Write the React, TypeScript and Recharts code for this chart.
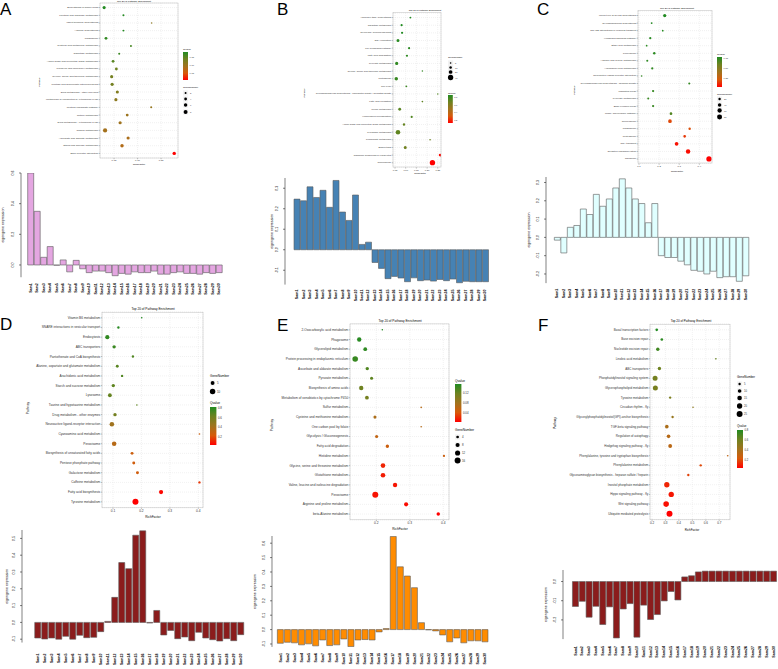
import React from 'react';
import { ScatterChart, Scatter, XAxis, YAxis, ZAxis, CartesianGrid, Cell, BarChart, Bar } from 'recharts';

const FONT = '"Liberation Sans", Arial, Helvetica, sans-serif';
const TITLE = 'Top 20 of Pathway Enrichment';

// ---------------- Panel A ----------------
const pathwaysA = ['Biosynthesis of amino acids', 'Fructose and mannose metabolism', 'Insect hormone biosynthesis', 'Arginine biosynthesis', 'Phagosome', 'Cysteine and methionine metabolism', 'Galactose metabolism', 'Amino sugar and nucleotide sugar metabolism', 'Porphyrin and chlorophyll metabolism', 'Glycine, serine and threonine metabolism', 'Pentose and glucuronate interconversions', 'Drug metabolism - other enzymes', 'Metabolism of xenobiotics by cytochrome P450', 'Pentose phosphate pathway', 'Retinol metabolism', 'Drug metabolism - cytochrome P450', 'Carbon metabolism', 'Ascorbate and aldarate metabolism', 'Starch and sucrose metabolism', 'ECM-receptor interaction'];
const richA = [0.029, 0.070, 0.130, 0.070, 0.033, 0.086, 0.061, 0.048, 0.055, 0.045, 0.046, 0.057, 0.054, 0.129, 0.078, 0.063, 0.031, 0.080, 0.067, 0.178];
const genesA = [5, 2, 1, 2, 4, 2, 2, 4, 4, 5, 5, 5, 5, 2, 4, 5, 9, 5, 6, 6];
const qA = [0.18, 0.18, 0.111, 0.18, 0.172, 0.16, 0.167, 0.15, 0.137, 0.132, 0.132, 0.12, 0.111, 0.102, 0.097, 0.094, 0.09, 0.085, 0.08, 0.007];

// ---------------- Panel B ----------------
const pathwaysB = ['Aminoacyl-tRNA biosynthesis', 'Galactose metabolism', 'Glycolysis / Gluconeogenesis', 'DNA replication', 'PPAR signaling pathway', 'Fatty acid degradation', 'Pyruvate metabolism', 'Glycine, serine and threonine metabolism', 'Proteasome', 'Cell cycle', 'Glycosaminoglycan biosynthesis - chondroitin sulfate / dermatan sulfate', 'Fatty acid elongation', 'Purine metabolism', 'Homologous recombination', 'Amino sugar and nucleotide sugar metabolism', 'Pyrimidine metabolism', 'Propanoate metabolism', 'Endocytosis', 'Ribosome biogenesis in eukaryotes', 'Spliceosome'];
const richB = [0.122, 0.081, 0.083, 0.064, 0.116, 0.106, 0.058, 0.178, 0.056, 0.103, 0.25, 0.178, 0.072, 0.128, 0.092, 0.064, 0.214, 0.098, 0.261, 0.225];
const genesB = [6, 8, 8, 14, 8, 8, 16, 4, 18, 6, 4, 5, 12, 8, 9, 30, 5, 14, 12, 40];
const qB = [0.86, 0.86, 0.86, 0.845, 0.838, 0.83, 0.823, 0.823, 0.808, 0.8, 0.749, 0.712, 0.727, 0.749, 0.697, 0.712, 0.675, 0.668, 0.135, 0.12];

// ---------------- Panel C ----------------
const pathwaysC = ['Mucin type O-glycan biosynthesis', 'Glycosphingolipid biosynthesis', 'SNARE interactions in vesicular transport', 'Hedgehog signaling pathway', 'Ether lipid metabolism', 'Peroxisome', 'Arginine and proline metabolism', 'Arachidonic acid metabolism', 'Neuroactive ligand-receptor interaction', 'Glycosaminoglycan biosynthesis - heparan sulfate', 'Mismatch repair', 'Pyruvate metabolism', 'Base excision repair', 'mRNA surveillance pathway', 'Spliceosome', 'Phagosome', 'Proteasome', 'RNA transport', 'Oxidative phosphorylation', 'Ribosome'];
const richC = [0.228, 0.163, 0.218, 0.156, 0.138, 0.176, 0.141, 0.166, 0.113, 0.35, 0.17, 0.146, 0.17, 0.259, 0.254, 0.352, 0.327, 0.287, 0.344, 0.448];
const genesC = [35, 12, 12, 18, 12, 20, 15, 18, 10, 15, 18, 15, 18, 25, 45, 20, 25, 45, 65, 90];
const qC = [0.775, 0.77, 0.765, 0.76, 0.755, 0.75, 0.745, 0.74, 0.735, 0.73, 0.725, 0.72, 0.72, 0.66, 0.175, 0.19, 0.14, 0.06, 0.05, 0.025];

// ---------------- Panel D ----------------
const pathwaysD = ['Vitamin B6 metabolism', 'SNARE interactions in vesicular transport', 'Endocytosis', 'ABC transporters', 'Pantothenate and CoA biosynthesis', 'Alanine, aspartate and glutamate metabolism', 'Arachidonic acid metabolism', 'Starch and sucrose metabolism', 'Lysosome', 'Taurine and hypotaurine metabolism', 'Drug metabolism - other enzymes', 'Neuroactive ligand-receptor interaction', 'Cyanoamino acid metabolism', 'Peroxisome', 'Biosynthesis of unsaturated fatty acids', 'Pentose phosphate pathway', 'Galactose metabolism', 'Caffeine metabolism', 'Fatty acid biosynthesis', 'Tyrosine metabolism'];
const richD = [0.201, 0.119, 0.08, 0.104, 0.17, 0.115, 0.132, 0.101, 0.089, 0.184, 0.107, 0.096, 0.404, 0.104, 0.167, 0.173, 0.186, 0.404, 0.269, 0.179];
const genesD = [1, 2, 6, 4, 2, 3, 2, 4, 5, 1, 4, 7, 1, 7, 3, 3, 3, 2, 6, 12];
const qD = [0.82, 0.804, 0.781, 0.757, 0.702, 0.679, 0.702, 0.663, 0.647, 0.663, 0.6, 0.428, 0.271, 0.349, 0.271, 0.255, 0.255, 0.153, 0.051, 0.035];

// ---------------- Panel E ----------------
const pathwaysE = ['2-Oxocarboxylic acid metabolism', 'Phagosome', 'Glycerolipid metabolism', 'Protein processing in endoplasmic reticulum', 'Ascorbate and aldarate metabolism', 'Pyruvate metabolism', 'Biosynthesis of amino acids', 'Metabolism of xenobiotics by cytochrome P450', 'Sulfur metabolism', 'Cysteine and methionine metabolism', 'One carbon pool by folate', 'Glycolysis / Gluconeogenesis', 'Fatty acid degradation', 'Histidine metabolism', 'Glycine, serine and threonine metabolism', 'Glutathione metabolism', 'Valine, leucine and isoleucine degradation', 'Peroxisome', 'Arginine and proline metabolism', 'beta-Alanine metabolism'];
const richE = [0.218, 0.149, 0.167, 0.137, 0.173, 0.186, 0.155, 0.172, 0.334, 0.196, 0.334, 0.201, 0.233, 0.402, 0.22, 0.22, 0.256, 0.197, 0.289, 0.385];
const genesE = [2, 9, 7, 14, 6, 5, 9, 7, 2, 5, 2, 5, 6, 3, 10, 10, 9, 16, 8, 6];
const qE = [0.156, 0.153, 0.15, 0.145, 0.133, 0.126, 0.118, 0.113, 0.065, 0.072, 0.065, 0.057, 0.05, 0.05, 0.019, 0.016, 0.013, 0.012, 0.009, 0.004];

// ---------------- Panel F ----------------
const pathwaysF = ['Basal transcription factors', 'Base excision repair', 'Nucleotide excision repair', 'Linoleic acid metabolism', 'ABC transporters', 'Phosphatidylinositol signaling system', 'Glycerophospholipid metabolism', 'Tyrosine metabolism', 'Circadian rhythm - fly', 'Glycosylphosphatidylinositol(GPI)-anchor biosynthesis', 'TGF-beta signaling pathway', 'Regulation of autophagy', 'Hedgehog signaling pathway - fly', 'Phenylalanine, tyrosine and tryptophan biosynthesis', 'Phenylalanine metabolism', 'Glycosaminoglycan biosynthesis - heparan sulfate / heparin', 'Inositol phosphate metabolism', 'Hippo signaling pathway - fly', 'Wnt signaling pathway', 'Ubiquitin mediated proteolysis'];
const richF = [0.235, 0.273, 0.243, 0.675, 0.255, 0.223, 0.225, 0.335, 0.505, 0.353, 0.31, 0.323, 0.335, 0.763, 0.562, 0.47, 0.31, 0.343, 0.305, 0.33];
const genesF = [6, 6, 9, 3, 9, 18, 18, 5, 3, 5, 10, 10, 11, 3, 5, 5, 20, 20, 22, 25];
const qF = [0.82, 0.796, 0.742, 0.647, 0.624, 0.6, 0.585, 0.569, 0.506, 0.467, 0.388, 0.349, 0.333, 0.31, 0.192, 0.176, 0.114, 0.082, 0.066, 0.035];

// ---------------- Eigengene bars ----------------
const samples = ['Sam1', 'Sam2', 'Sam3', 'Sam4', 'Sam5', 'Sam6', 'Sam7', 'Sam8', 'Sam9', 'Sam10', 'Sam11', 'Sam12', 'Sam13', 'Sam14', 'Sam15', 'Sam16', 'Sam17', 'Sam18', 'Sam19', 'Sam20', 'Sam21', 'Sam22', 'Sam23', 'Sam24', 'Sam25', 'Sam26', 'Sam27', 'Sam28', 'Sam29', 'Sam30'];
const eigenA = [0.6, 0.35, 0.05, 0.12, -0.002, 0.033, -0.045, 0.03, -0.025, -0.05, -0.04, -0.04, -0.05, -0.07, -0.055, -0.06, -0.045, -0.05, -0.05, -0.04, -0.06, -0.06, -0.05, -0.045, -0.055, -0.055, -0.06, -0.05, -0.055, -0.05];
const eigenB = [0.247, 0.239, 0.307, 0.255, 0.29, 0.207, 0.338, 0.184, 0.143, 0.267, 0.026, 0.037, -0.062, -0.091, -0.141, -0.13, -0.138, -0.156, -0.137, -0.151, -0.148, -0.153, -0.145, -0.151, -0.143, -0.161, -0.154, -0.156, -0.156, -0.156];
const eigenC = [-0.015, -0.085, 0.055, 0.065, 0.155, 0.125, 0.235, 0.17, 0.21, 0.27, 0.32, 0.27, 0.21, 0.185, 0.08, 0.185, -0.1, -0.11, -0.11, -0.13, -0.15, -0.18, -0.185, -0.2, -0.185, -0.22, -0.215, -0.215, -0.24, -0.21];
const eigenD = [-0.093, -0.099, -0.093, -0.1, -0.083, -0.1, -0.077, -0.091, -0.089, -0.055, 0.006, 0.149, 0.356, 0.32, 0.519, 0.545, -0.004, 0.071, -0.075, -0.048, -0.097, -0.087, -0.109, -0.059, -0.093, -0.103, -0.111, -0.097, -0.109, -0.073];
const eigenE = [-0.095, -0.088, -0.092, -0.106, -0.099, -0.113, -0.072, -0.111, -0.106, -0.065, -0.118, -0.072, -0.069, -0.072, -0.016, 0.007, 0.647, 0.436, 0.372, 0.291, 0.048, -0.002, -0.009, -0.037, -0.085, -0.058, -0.092, -0.078, -0.078, -0.085];
const eigenF = [-0.13, -0.103, -0.186, -0.129, -0.224, -0.132, -0.294, -0.143, -0.115, -0.29, -0.123, -0.198, -0.172, -0.101, -0.052, -0.096, 0.024, 0.03, 0.05, 0.054, 0.054, 0.054, 0.054, 0.054, 0.054, 0.054, 0.054, 0.054, 0.054, 0.054];

// ---------------- styling helpers ----------------
const GRAD = ['#FF0000', '#D75A0A', '#A0731E', '#6E8220', '#228B22'];
function hexRgb(h: string) {
  return [parseInt(h.slice(1, 3), 16), parseInt(h.slice(3, 5), 16), parseInt(h.slice(5, 7), 16)];
}
function gradColor(t: number) {
  const c = Math.max(0, Math.min(1, t)) * (GRAD.length - 1);
  const i = Math.min(GRAD.length - 2, Math.floor(c));
  const f = c - i;
  const a = hexRgb(GRAD[i]);
  const b = hexRgb(GRAD[i + 1]);
  const m = a.map((v, j) => Math.round(v + (b[j] - v) * f));
  return `rgb(${m[0]},${m[1]},${m[2]})`;
}

type BubbleCfg = {
  id: string; names: string[]; rich: number[]; genes: number[]; q: number[];
  qDomain: [number, number]; left: number; x0: number; x1: number; y0: number; y1: number;
  xDomain: [number, number]; xTicks: number[]; xDigits: number;
  zDomain: [number, number]; zRange: [number, number]; fs: number;
  title: [number, number]; ylab: [number, number]; xlab: [number, number];
  colorLeg: { x: number; ty: number; y0: number; y1: number; labels: number[]; digits: number };
  sizeLeg: { x: number; ty: number; items: { v: number; y: number }[] };
};

const bubbles: BubbleCfg[] = [
  { id: 'A', names: pathwaysA, rich: richA, genes: genesA, q: qA, qDomain: [0.006, 0.181], left: 30, x0: 100, x1: 178, y0: 3, y1: 158,
    xDomain: [0.0202, 0.186], xTicks: [0.05, 0.1, 0.15], xDigits: 2, zDomain: [1, 9], zRange: [1.5, 14], fs: 2.5,
    title: [134, 1.8], ylab: [39, 82], xlab: [139, 164.5],
    colorLeg: { x: 183, ty: 49, y0: 52, y1: 80, labels: [0.15, 0.1, 0.05], digits: 2 },
    sizeLeg: { x: 183, ty: 87, items: [{ v: 2, y: 93 }, { v: 4, y: 99 }, { v: 6, y: 105 }, { v: 8, y: 112 }] } },
  { id: 'B', names: pathwaysB, rich: richB, genes: genesB, q: qB, qDomain: [0.12, 0.86], left: 290, x0: 393, x1: 441, y0: 12.7, y1: 167,
    xDomain: [0.0407, 0.265], xTicks: [0.05, 0.1, 0.15, 0.2, 0.25], xDigits: 2, zDomain: [4, 40], zRange: [1.5, 22], fs: 2.4,
    title: [425, 10.3], ylab: [304, 93], xlab: [420, 173.5],
    colorLeg: { x: 448, ty: 93, y0: 95, y1: 123, labels: [0.8, 0.6, 0.4, 0.2], digits: 1 },
    sizeLeg: { x: 448, ty: 57, items: [{ v: 5, y: 63 }, { v: 10, y: 67.5 }, { v: 20, y: 72 }, { v: 40, y: 77.5 }] } },
  { id: 'C', names: pathwaysC, rich: richC, genes: genesC, q: qC, qDomain: [0.025, 0.775], left: 570, x0: 638, x1: 712, y0: 10.5, y1: 163,
    xDomain: [0.095, 0.463], xTicks: [0.1, 0.2, 0.3, 0.4], xDigits: 1, zDomain: [10, 90], zRange: [2, 22], fs: 2.5,
    title: [677, 8.3], ylab: [574, 90], xlab: [677, 171],
    colorLeg: { x: 717, ty: 54, y0: 57, y1: 87, labels: [0.75, 0.5, 0.25], digits: 2 },
    sizeLeg: { x: 717, ty: 94, items: [{ v: 20, y: 99 }, { v: 40, y: 105 }, { v: 60, y: 110.5 }, { v: 80, y: 117 }] } },
  { id: 'D', names: pathwaysD, rich: richD, genes: genesD, q: qD, qDomain: [0.035, 0.82], left: 20, x0: 102, x1: 203, y0: 312.2, y1: 507.8,
    xDomain: [0.0613, 0.4165], xTicks: [0.1, 0.2, 0.3, 0.4], xDigits: 1, zDomain: [1, 12], zRange: [2, 28], fs: 3.2,
    title: [153, 309.3], ylab: [28, 408], xlab: [153, 517],
    colorLeg: { x: 210, ty: 403, y0: 407, y1: 445, labels: [0.8, 0.6, 0.4, 0.2], digits: 1 },
    sizeLeg: { x: 210, ty: 376, items: [{ v: 5, y: 383 }, { v: 10, y: 391.5 }] } },
  { id: 'E', names: pathwaysE, rich: richE, genes: genesE, q: qE, qDomain: [0.004, 0.156], left: 262, x0: 350, x1: 449, y0: 323.9, y1: 519.8,
    xDomain: [0.1215, 0.417], xTicks: [0.2, 0.3, 0.4], xDigits: 1, zDomain: [2, 16], zRange: [2, 28], fs: 3.2,
    title: [400, 321], ylab: [272, 425], xlab: [400, 529],
    colorLeg: { x: 455, ty: 381, y0: 384, y1: 422, labels: [0.12, 0.08, 0.04], digits: 2 },
    sizeLeg: { x: 455, ty: 430, items: [{ v: 4, y: 437 }, { v: 8, y: 445 }, { v: 12, y: 453 }, { v: 16, y: 460.5 }] } },
  { id: 'F', names: pathwaysF, rich: richF, genes: genesF, q: qF, qDomain: [0.035, 0.82], left: 560, x0: 650, x1: 730, y0: 324.2, y1: 519.8,
    xDomain: [0.185, 0.78], xTicks: [0.2, 0.3, 0.4, 0.5, 0.6, 0.7], xDigits: 1, zDomain: [3, 25], zRange: [2, 28], fs: 3.0,
    title: [691, 321], ylab: [555, 423], xlab: [692, 529.5],
    colorLeg: { x: 737, ty: 426, y0: 430, y1: 468, labels: [0.8, 0.6, 0.4, 0.2], digits: 1 },
    sizeLeg: { x: 737, ty: 377, items: [{ v: 5, y: 384 }, { v: 10, y: 391 }, { v: 15, y: 398 }, { v: 20, y: 406 }, { v: 25, y: 414 }] } },
];

type BarCfg = {
  id: string; values: number[]; color: string; axisX: number; bandStart: number; bandEnd: number;
  domain: [number, number]; ticks: number[]; zeroY: number; k: number; ylabX: number; labOff: number; gap: string; fs: number;
};

const bars: BarCfg[] = [
  { id: 'A', values: eigenA, color: '#E4A6E1', axisX: 21, bandStart: 27.3, bandEnd: 222.3, domain: [-0.08, 0.6], ticks: [0, 0.2, 0.4, 0.6], zeroY: 265, k: 153.3, ylabX: 3, labOff: 6, gap: '6%', fs: 3.6 },
  { id: 'B', values: eigenB, color: '#4682B4', axisX: 285, bandStart: 293.75, bandEnd: 488.75, domain: [-0.17, 0.35], ticks: [-0.1, 0, 0.1, 0.2, 0.3], zeroY: 250, k: 205, ylabX: 272, labOff: 5, gap: '4%', fs: 3.6 },
  { id: 'C', values: eigenC, color: '#E0FFFF', axisX: 546, bandStart: 554, bandEnd: 749, domain: [-0.25, 0.33], ticks: [-0.2, -0.1, 0, 0.1, 0.2, 0.3], zeroY: 237, k: 183, ylabX: 529, labOff: 5.5, gap: '5%', fs: 3.6 },
  { id: 'D', values: eigenD, color: '#8B1C1C', axisX: 22, bandStart: 34.4, bandEnd: 244.4, domain: [-0.12, 0.55], ticks: [-0.1, 0, 0.1, 0.2, 0.3, 0.4, 0.5], zeroY: 622, k: 168, ylabX: 7, labOff: 11, gap: '5%', fs: 3.6 },
  { id: 'E', values: eigenE, color: '#FF8C00', axisX: 272, bandStart: 277, bandEnd: 488.7, domain: [-0.12, 0.65], ticks: [-0.1, 0, 0.1, 0.2, 0.3, 0.4, 0.5, 0.6], zeroY: 630, k: 144, ylabX: 255, labOff: 6, gap: '5%', fs: 3.6 },
  { id: 'F', values: eigenF, color: '#8B1C1C', axisX: 563, bandStart: 572.1, bandEnd: 777, domain: [-0.3, 0.06], ticks: [-0.2, -0.1, 0], zeroY: 582, k: 192, ylabX: 546, labOff: 7, gap: '5%', fs: 3.6 },
];

const letters = [
  { t: 'A', x: 0, y: 15 }, { t: 'B', x: 277, y: 15 }, { t: 'C', x: 537, y: 15 },
  { t: 'D', x: 0, y: 330 }, { t: 'E', x: 277, y: 331 }, { t: 'F', x: 538, y: 331 },
];

function BubblePanel({ c }: { c: BubbleCfg }) {
  const data = c.names.map((n, i) => ({ name: n, row: i + 1, rich: c.rich[i], genes: c.genes[i], q: c.q[i] }));
  const mL = 2, mT = 3, mR = 3, xh = 8;
  const yw = c.x0 - c.left;
  const W = mL + yw + (c.x1 - c.x0) + mR;
  const H = mT + (c.y1 - c.y0) + xh;
  const rows = c.names.map((_, i) => i + 1);
  return (
    <div style={{ position: 'absolute', left: c.left - mL, top: c.y0 - mT }}>
      <ScatterChart width={W} height={H} margin={{ top: mT, right: mR, bottom: 0, left: mL }}>
        <CartesianGrid stroke="#e3e3e3" strokeWidth={0.5} strokeDasharray="1 1" />
        <XAxis type="number" dataKey="rich" domain={c.xDomain} ticks={c.xTicks} allowDataOverflow height={xh} interval={0}
          axisLine={false} tickSize={1.2} tickMargin={0.6} tickLine={{ stroke: '#444', strokeWidth: 0.4 }}
          tick={(p: any) => (
            <text x={p.x} y={p.y} textAnchor="middle" dominantBaseline="hanging" fontSize={c.fs} fill="#333" fontFamily={FONT}>
              {Number(p.payload.value).toFixed(c.xDigits)}
            </text>
          )} />
        <YAxis type="number" dataKey="row" domain={[0.4, c.names.length + 0.6]} ticks={rows} reversed allowDataOverflow width={yw} interval={0}
          axisLine={false} tickSize={1.2} tickMargin={0.6} tickLine={{ stroke: '#444', strokeWidth: 0.4 }}
          tick={(p: any) => (
            <text x={p.x} y={p.y} textAnchor="end" dominantBaseline="central" fontSize={c.fs} fill="#333" fontFamily={FONT}>
              {c.names[p.payload.value - 1]}
            </text>
          )} />
        <ZAxis type="number" dataKey="genes" domain={c.zDomain} range={c.zRange} />
        <Scatter data={data} isAnimationActive={false}>
          {data.map((d, i) => (
            <Cell key={i} fill={gradColor((d.q - c.qDomain[0]) / (c.qDomain[1] - c.qDomain[0]))} />
          ))}
        </Scatter>
      </ScatterChart>
    </div>
  );
}

function BarPanel({ c }: { c: BarCfg }) {
  const data = samples.map((s, i) => ({ s, v: c.values[i] }));
  const top = c.zeroY - c.domain[1] * c.k;
  const bottom = c.zeroY - c.domain[0] * c.k;
  const mT = 8, mR = 1, xh = 26;
  const chartLeft = c.ylabX - 4;
  const yw = c.axisX - chartLeft;
  const width = c.bandEnd - chartLeft + mR;
  const height = mT + (bottom - top) + xh;
  return (
    <div style={{ position: 'absolute', left: chartLeft, top: top - mT }}>
      <BarChart width={width} height={height} data={data} margin={{ top: mT, right: mR, bottom: 0, left: 0 }} barCategoryGap={c.gap}>
        <XAxis dataKey="s" interval={0} axisLine={false} tickLine={false} tickSize={0} tickMargin={0} height={xh}
          padding={{ left: c.bandStart - c.axisX, right: 0 }}
          tick={(p: any) => (
            <text x={p.x} y={p.y + c.labOff} transform={`rotate(-90 ${p.x} ${p.y + c.labOff})`} textAnchor="end" dominantBaseline="central"
              fontSize={c.fs} fontWeight="bold" fill="#000" fontFamily={FONT}>{p.payload.value}</text>
          )} />
        <YAxis type="number" domain={c.domain} ticks={c.ticks} allowDataOverflow width={yw} interval={0}
          tickSize={2} tickMargin={5} axisLine={{ stroke: '#000', strokeWidth: 0.5 }} tickLine={{ stroke: '#000', strokeWidth: 0.5 }}
          tick={(p: any) => (
            <text x={p.x} y={p.y} transform={`rotate(-90 ${p.x} ${p.y})`} textAnchor="middle" fontSize={c.fs} fill="#000" fontFamily={FONT}>
              {Number(p.payload.value).toFixed(1)}
            </text>
          )}
          label={{ value: 'eigengene expression', angle: -90, position: 'insideLeft', offset: 4,
            style: { textAnchor: 'middle', fontSize: c.fs, fill: '#000', fontFamily: FONT } }} />
        <Bar dataKey="v" fill={c.color} stroke="#5a5a5a" strokeWidth={0.6} isAnimationActive={false} />
      </BarChart>
    </div>
  );
}

function Legends({ c }: { c: BubbleCfg }) {
  const gid = `grad${c.id}`;
  const cl = c.colorLeg;
  const sl = c.sizeLeg;
  const fs = c.fs;
  const qy = (v: number) => cl.y0 + (c.qDomain[1] - v) / (c.qDomain[1] - c.qDomain[0]) * (cl.y1 - cl.y0);
  const rad = (v: number) => {
    const a = c.zRange[0] + (v - c.zDomain[0]) / (c.zDomain[1] - c.zDomain[0]) * (c.zRange[1] - c.zRange[0]);
    return Math.sqrt(Math.max(a, 0.5) / Math.PI);
  };
  return (
    <g fontFamily={FONT}>
      <defs>
        <linearGradient id={gid} x1="0" y1="0" x2="0" y2="1">
          {GRAD.slice().reverse().map((g, i) => (
            <stop key={i} offset={`${(i / (GRAD.length - 1)) * 100}%`} stopColor={g} />
          ))}
        </linearGradient>
      </defs>
      <text x={cl.x} y={cl.ty} fontSize={fs} fill="#000" dominantBaseline="central">Qvalue</text>
      <rect x={cl.x} y={cl.y0} width={fs * 2} height={cl.y1 - cl.y0} fill={`url(#${gid})`} />
      {cl.labels.map((v, i) => (
        <text key={i} x={cl.x + fs * 2 + 1.5} y={qy(v)} fontSize={fs * 0.9} fill="#333" dominantBaseline="central">{v.toFixed(cl.digits)}</text>
      ))}
      <text x={sl.x} y={sl.ty} fontSize={fs} fill="#000" dominantBaseline="central">GeneNumber</text>
      {sl.items.map((it, i) => (
        <g key={i}>
          <rect x={sl.x} y={it.y - 2.6} width={5.2} height={5.2} fill="#f2f2f2" />
          <circle cx={sl.x + 2.6} cy={it.y} r={rad(it.v)} fill="#000" />
          <text x={sl.x + 7} y={it.y} fontSize={fs * 0.9} fill="#333" dominantBaseline="central">{it.v}</text>
        </g>
      ))}
    </g>
  );
}

export default function App() {
  return (
    <div style={{ position: 'absolute', left: 0, top: 0, width: 778, height: 669, background: '#fff', overflow: 'hidden' }}>
      {bubbles.map((b) => <BubblePanel key={b.id} c={b} />)}
      {bars.map((b) => <BarPanel key={b.id} c={b} />)}
      <svg width={778} height={669} style={{ position: 'absolute', left: 0, top: 0, pointerEvents: 'none' }}>
        {bubbles.map((b) => (
          <g key={b.id} fontFamily={FONT}>
            <rect x={b.x0} y={b.y0} width={b.x1 - b.x0} height={b.y1 - b.y0} fill="none" stroke="#bdbdbd" strokeWidth={0.5} />
            <text x={b.title[0]} y={b.title[1]} fontSize={b.fs} textAnchor="middle" dominantBaseline="central" fill="#000">{TITLE}</text>
            <text x={b.ylab[0]} y={b.ylab[1]} fontSize={b.fs} textAnchor="middle" dominantBaseline="central" fill="#000"
              transform={`rotate(-90 ${b.ylab[0]} ${b.ylab[1]})`}>Pathway</text>
            <text x={b.xlab[0]} y={b.xlab[1]} fontSize={b.fs} textAnchor="middle" dominantBaseline="central" fill="#000">RichFactor</text>
            <Legends c={b} />
          </g>
        ))}
        {letters.map((l) => (
          <text key={l.t} x={l.x} y={l.y} fontSize={17} fontFamily={FONT} fill="#000">{l.t}</text>
        ))}
      </svg>
    </div>
  );
}
